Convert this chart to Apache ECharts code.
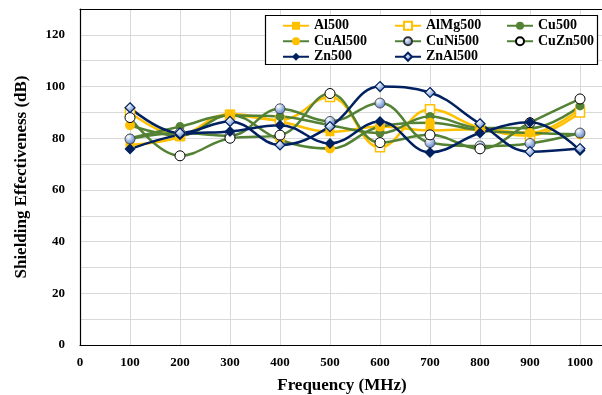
<!DOCTYPE html>
<html>
<head>
<meta charset="utf-8">
<script src="https://cdn.jsdelivr.net/npm/echarts@6/dist/echarts.min.js"></script>
<style>
  html, body { margin: 0; padding: 0; background: #fff; }
  #chartContainer { width: 602px; height: 395px; }
</style>
</head>
<body>
<div id="chartContainer"></div>
<script>
const freqs = [100, 200, 300, 400, 500, 600, 700, 800, 900, 1000];
const al500 = [77.4, 80.5, 89.4, 86.5, 82.5, 84.5, 83, 83.5, 82, 91.4];
const alMg500 = [90, 81, 89, 87, 96, 76.5, 91.2, 84, 81, 90];
const cu500 = [80, 84.5, 88.8, 88.4, 85, 82, 88.4, 84, 83.9, 92.5];
const cuAl500 = [85, 81, 89, 79.4, 76, 84.5, 86, 83, 82, 81.5];
const cuNi500 = [79.7, 82, 81, 91.4, 86.5, 93.6, 78.3, 77, 78, 82];
const cuZn500 = [88, 73.2, 80, 81.2, 97.3, 78.3, 81.3, 75.9, 86, 95.2];
const zn500 = [75.8, 81.3, 82.6, 85, 78, 86.5, 74.5, 82, 86.2, 75.3];
const znAl500 = [91.8, 82, 86.5, 77.4, 84.5, 100, 97.7, 85.6, 74.8, 76];
const yTicks = [0, 20, 40, 60, 80, 100, 120];

const YELLOW = '#FFC000';
const GREEN = '#548235';
const NAVY = '#002060';
const FONT = 'Liberation Serif';

let chart = null;

function pairs(values) {
    return freqs.map((f, i) => [f, values[i]]);
}

function blueBall() {
    return new echarts.graphic.RadialGradient(0.35, 0.3, 0.8, [
        { offset: 0, color: '#ffffff' },
        { offset: 1, color: '#4472C4' }
    ]);
}

function makeSeries(name, values, lineColor, symbol, size, fill, border, borderWidth) {
    return {
        name: name,
        type: 'line',
        smooth: 0.4,
        data: pairs(values),
        symbol: symbol,
        symbolSize: size,
        lineStyle: { color: lineColor, width: 2.5 },
        itemStyle: { color: fill, borderColor: border, borderWidth: borderWidth },
        emphasis: { disabled: true }
    };
}

document.addEventListener('DOMContentLoaded', function() {
    chart = echarts.init(document.getElementById('chartContainer'));

    const series = [
        makeSeries('Al500', al500, YELLOW, 'rect', 9, YELLOW, YELLOW, 0),
        makeSeries('AlMg500', alMg500, YELLOW, 'rect', 9, '#fff', YELLOW, 1.5),
        makeSeries('Cu500', cu500, GREEN, 'circle', 9, GREEN, GREEN, 0),
        makeSeries('CuAl500', cuAl500, GREEN, 'circle', 10, YELLOW, YELLOW, 0),
        makeSeries('CuNi500', cuNi500, GREEN, 'circle', 10, blueBall(), '#333', 0.8),
        makeSeries('CuZn500', cuZn500, GREEN, 'circle', 10, '#fff', '#000', 1),
        makeSeries('Zn500', zn500, NAVY, 'diamond', 11, NAVY, NAVY, 0),
        makeSeries('ZnAl500', znAl500, NAVY, 'diamond', 10, blueBall(), NAVY, 1.2)
    ];

    const option = {
        animation: false,
        backgroundColor: '#fff',
        textStyle: { fontFamily: FONT },
        grid: { left: 80, right: -2, top: 9, bottom: 50, containLabel: false, outerBoundsMode: 'none' },
        graphic: [{
            type: 'rect',
            z: 10,
            shape: { x: 265.5, y: 15.5, width: 332, height: 49 },
            style: { fill: '#fff', stroke: '#000', lineWidth: 1.2 }
        }],
        legend: {
            z: 20,
            left: 282,
            top: 18,
            width: 336,
            padding: 0,
            itemGap: 0,
            itemWidth: 26,
            itemHeight: 10,
            data: series.map(s => s.name),
            textStyle: {
                fontFamily: FONT, fontWeight: 'bold', fontSize: 14, color: '#000',
                width: 80, lineHeight: 15.5
            }
        },
        xAxis: [{
            type: 'value',
            min: 0,
            max: 1048,
            interval: 100,
            name: 'Frequency (MHz)',
            nameLocation: 'middle',
            nameGap: 32,
            nameTextStyle: { fontFamily: FONT, fontWeight: 'bold', fontSize: 17, color: '#000' },
            axisLine: { lineStyle: { color: '#000', width: 1.2 } },
            axisTick: { show: false },
            axisLabel: {
                showMaxLabel: false, margin: 11,
                fontFamily: FONT, fontWeight: 'bold', fontSize: 13, color: '#000',
                formatter: v => String(v)
            },
            splitLine: { show: true, lineStyle: { color: '#d9d9d9', width: 1 } }
        }, {
            type: 'value',
            position: 'top',
            min: 0,
            max: 1048,
            axisLine: { show: true, onZero: false, lineStyle: { color: '#000', width: 1.2 } },
            axisTick: { show: false },
            axisLabel: { show: false },
            splitLine: { show: false }
        }],
        yAxis: {
            type: 'value',
            min: 0,
            max: 130,
            interval: 10,
            name: 'Shielding Effectiveness (dB)',
            nameLocation: 'middle',
            nameGap: 50,
            nameTextStyle: { fontFamily: FONT, fontWeight: 'bold', fontSize: 17, color: '#000' },
            axisLine: { show: true, lineStyle: { color: '#000', width: 1.2 } },
            axisTick: { show: false },
            axisLabel: {
                margin: 15,
                fontFamily: FONT, fontWeight: 'bold', fontSize: 13, color: '#000',
                formatter: v => yTicks.includes(v) ? String(v) : ''
            },
            splitLine: { show: true, lineStyle: { color: '#d9d9d9', width: 1 } }
        },
        series: series
    };

    chart.setOption(option);
});
</script>
</body>
</html>
